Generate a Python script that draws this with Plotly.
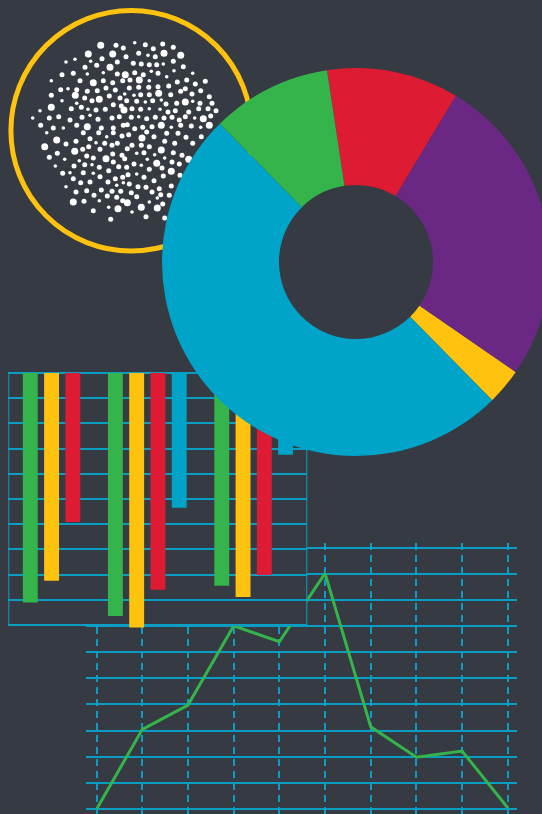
import plotly.graph_objects as go

W, H = 550, 814          # figure is 8px wider than the window: the donut runs off the right edge
BG = '#363a42'
GRID = '#0a9ec4'
GREEN = '#34b44a'
YELLOW = '#ffc20e'
RED = '#dd1c33'
BLUE = '#00a4c9'
PURPLE = '#6b2784'

# ---------------- data ----------------
# donut
pie_labels = ['Red', 'Purple', 'Yellow', 'Blue', 'Green']
pie_values = [11, 26, 3, 50, 10]
pie_colors = [RED, PURPLE, YELLOW, BLUE, GREEN]

# hanging bar chart (values measured downwards from the top line, 0..10 grid)
bar_groups = [1.5, 5.5, 10.5]
bar_green = [9.11, 9.64, 8.44]
bar_yellow = [8.24, 10.1, 8.89]
bar_red = [5.91, 8.6, 8.02]
bar_blue = [None, 5.35, 3.24]
bar_grid = list(range(0, 11))

# line chart
line_x = list(range(10))
line_y = [0.0, 3.05, 3.98, 7.01, 6.4, 9.02, 3.15, 1.98, 2.22, 0.05]
line_grid = list(range(0, 11))

# dot cloud (pixel space of the illustration)
dot_x = [
    100.7, 116, 88.3, 112.7, 123.3, 75, 66, 90.7, 102, 117.3,
    85, 96.7, 110, 62, 73.3, 87.3, 103.3, 117.3, 51.3, 80,
    93.3, 103.3, 112.7, 122.7, 60.7, 68, 76.7, 87.3, 97.3, 106,
    115.3, 51.3, 75.3, 84.7, 92, 99.3, 109.3, 120, 62, 76.7,
    51.3, 40, 71.3, 81.3, 88, 96, 105.3, 113.3, 121.3, 49.3,
    58.7, 70, 82, 90, 98, 112, 119.3, 32.7, 40.7, 53.3,
    63.3, 76.7, 87.3, 101.3, 113.3, 123.3,
    134.7, 145.3, 153.3, 162.7, 173.3, 138.7, 148, 155.3, 164, 180.7,
    126, 133.3, 141.3, 149.3, 156.7, 163.3, 173.3, 183.3, 125.3, 134.7,
    143.3, 151.3, 158, 174, 192.7, 130, 139.3, 149.3, 166.7, 177.3,
    186.7, 195.3, 205.3, 129.3, 138.7, 148.7, 158, 168.7, 185.3, 124.7,
    134, 140.7, 149.3, 158.7, 170.7, 180.7, 192, 200.7, 209.3, 126.7,
    136.7, 145.3, 152.7, 161.3, 166, 176.7, 185.3, 192.7, 200, 212,
    124, 132, 140.7, 149.3, 160, 168, 175.3, 188.7, 198.7, 208,
    216, 131.3, 138.7, 146.7, 155.3, 164, 172, 179.3, 185.3, 194.7,
    203.3, 210.7, 127.3, 134.7, 142.7, 152, 161.3, 171.3, 180.7, 191.3,
    200.7, 209.3,
    46.7, 56.7, 44.7, 66, 76, 83.3, 90, 98.7, 106.7, 113.3,
    122, 96, 104.7, 112, 117.3, 57.3, 49.3, 64.7, 74.7, 82.7,
    88.7, 86.7, 93.3, 100, 106, 112.7, 122, 79.3, 84.7, 92,
    99.3, 113.3, 118.7, 55.3, 74, 62.7, 70, 83.3, 93.3, 108.7,
    100, 73.3, 80.7, 90, 108, 115.3, 122.7, 116.7, 66, 76,
    86.7, 101.3, 112, 120.7, 94, 107.3, 116.7, 73.3, 84, 99.3,
    122.7, 108.7, 93.3, 118, 110.7,
    128.7, 142, 154, 166.7, 178, 186, 201.3, 146.7, 132, 141.3,
    149.3, 164.7, 174.7, 192.7, 127.3, 136.7, 144, 161.3, 173.3, 182,
    154.7, 188.7, 124.7, 134, 141.3, 147.3, 156.7, 164.7, 172, 179.3,
    126.7, 149.3, 162, 171.3, 128, 136.7, 144, 154, 163.3, 180,
    123.3, 129.3, 138, 146, 159.3, 171.3, 131.3, 136.7, 152, 160.7,
    169.3, 127.3, 149.3, 157.3, 162.7, 141.3, 157.3, 132, 146, 164.7,
]
dot_y = [
    45.3, 45.3, 54, 54, 48, 59.3, 62, 61.3, 58.7, 62,
    67.3, 65.3, 67.3, 74.7, 73.3, 74, 72.7, 74, 80.7, 80.7,
    82.7, 80.7, 82.7, 80.7, 89.7, 88.7, 89.7, 91.3, 90.7, 88,
    90, 95.3, 95.3, 98, 100.7, 99.3, 96, 98, 100.7, 103.3,
    107.3, 110.7, 108.7, 107.3, 109.3, 110, 109.3, 104.7, 106, 118,
    116.7, 120, 117.3, 115.3, 119.3, 118, 116.7, 118, 125.3, 128,
    128, 125.3, 126.7, 128, 128, 125.3,
    42.7, 44.7, 48.7, 44, 47.3, 53.3, 55.3, 56.7, 53.3, 55.3,
    56.7, 63.3, 64, 64.7, 64.7, 64, 61.3, 66.7, 74.7, 72.7,
    74.7, 71.3, 73.3, 70.7, 73.3, 80, 80, 80.7, 76.7, 82,
    80, 84, 81.3, 88, 87.3, 87.3, 86.7, 86, 88.7, 94,
    95.3, 94.7, 94.7, 93.3, 94.7, 91.3, 94, 90.7, 96.7, 100.7,
    101.3, 102, 100.7, 100, 104, 103.3, 102, 101.3, 103.3, 103.3,
    110, 108.7, 109.3, 108.7, 109.3, 112, 110.7, 112, 108.7, 108.7,
    110.7, 117.3, 116.7, 118.7, 117.3, 118, 117.3, 120, 116.7, 118,
    118.7, 116, 124.7, 128.7, 127.3, 126.7, 125.3, 127.3, 125.3, 126,
    127.3, 125.3,
    132.7, 140, 146.7, 144, 141.3, 132.7, 138.7, 132.7, 136.7, 132.7,
    136, 142.7, 143.3, 145.3, 143.3, 153.3, 157.3, 159.3, 151.3, 149.3,
    146.7, 156, 158, 149.3, 158.7, 154, 155.3, 160.7, 164.7, 164.7,
    167.3, 162, 166.7, 166, 166, 173.3, 172.7, 172.7, 173.3, 170.7,
    176.7, 178.7, 182.7, 182, 182, 178.7, 177.3, 185.3, 186.7, 192,
    190.7, 190, 191.3, 191.3, 195.3, 196, 197.3, 202, 201.3, 200.7,
    200.7, 207.3, 210.7, 208.7, 219.3,
    134.7, 138, 136.7, 133.3, 133.3, 137.3, 136.7, 132, 145.3, 145.3,
    146.7, 141.3, 143.3, 143.3, 148.7, 153.3, 152.7, 150, 152.7, 155.3,
    154.7, 159.3, 158.7, 164, 165.3, 159.3, 163.3, 158, 162, 164,
    167.3, 169.3, 168, 171.3, 174.7, 174, 177.3, 180.7, 176, 175.3,
    182.7, 184, 186.7, 187.3, 188.7, 186, 192.7, 196.7, 192, 194.7,
    195.3, 202.7, 202, 198, 204, 207.3, 208, 212, 216.7, 218,
]
dot_size = [
    7, 5, 7, 7, 5, 3.6, 3.6, 3.6, 5, 5,
    5, 5, 7, 5, 5, 3.6, 3.6, 5, 3.6, 5,
    7, 5, 5, 5, 5, 3.6, 5, 5, 5, 5,
    5, 5, 7, 5, 5, 7, 5, 5, 3.6, 3.6,
    7, 3.6, 5, 5, 3.6, 5, 5, 5, 5, 5,
    5, 5, 5, 3.6, 5, 5, 5, 3.6, 5, 5,
    3.6, 5, 7, 5, 5, 5,
    3.6, 5, 5, 5, 5, 5, 3.6, 5, 7, 7,
    5, 5, 5, 5, 5, 3.6, 5, 5, 7, 5,
    5, 3.6, 5, 3.6, 3.6, 5, 7, 3.6, 3.6, 5,
    5, 5, 5, 5, 5, 5, 5, 5, 5, 3.6,
    3.6, 5, 5, 7, 5, 5, 5, 5, 5, 5,
    5, 3.6, 5, 3.6, 5, 5, 7, 3.6, 5, 5,
    7, 5, 5, 3.6, 3.6, 5, 5, 5, 5, 5,
    5, 5, 3.6, 5, 5, 5, 5, 5, 5, 3.6,
    7, 5, 5, 5, 5, 5, 7, 3.6, 5, 5,
    3.6, 7,
    3.6, 7, 7, 5, 5, 5, 5, 5, 3.6, 5,
    5, 3.6, 5, 5, 5, 5, 5, 3.6, 7, 5,
    5, 5, 5, 5, 7, 5, 5, 3.6, 5, 3.6,
    5, 5, 5, 3.6, 5, 5, 3.6, 5, 3.6, 5,
    5, 5, 5, 5, 5, 5, 5, 3.6, 3.6, 5,
    5, 5, 5, 5, 5, 5, 5, 7, 5, 3.6,
    5, 3.6, 5, 7, 5,
    5, 7, 5, 5, 5, 5, 5, 5, 5, 5,
    5, 5, 5, 5, 5, 3.6, 5, 7, 5, 5,
    3.6, 7, 5, 5, 3.6, 3.6, 7, 3.6, 5, 5,
    5, 5, 5, 7, 5, 3.6, 5, 5, 5, 5,
    3.6, 5, 5, 5, 5, 5, 5, 5, 5, 5,
    5, 7, 3.6, 3.6, 5, 7, 7, 3.6, 5, 5,
]

# ---------------- layout helpers ----------------
def px_x(p):
    return p / W

def px_y(p):
    return 1 - p / H

line_xrange = [-0.234, 9.203]
line_yrange = [-0.191, 10.18]
bar_xrange = [-1.034, 13.02]
bar_yrange = [10.198, -0.119]

fig = go.Figure()

# line chart (bottom layer, subplot xy)
fig.add_trace(go.Scatter(
    x=line_x, y=line_y, mode='lines',
    line=dict(color=GREEN, width=3), xaxis='x', yaxis='y',
    hoverinfo='skip', showlegend=False))

# bars (subplot x2y2)
for vals, col in [(bar_green, GREEN), (bar_yellow, YELLOW),
                  (bar_red, RED), (bar_blue, BLUE)]:
    fig.add_trace(go.Bar(
        x=bar_groups, y=vals, marker=dict(color=col, line=dict(width=0)),
        xaxis='x2', yaxis='y2', hoverinfo='skip', showlegend=False))

# dots (subplot x3y3, pixel space)
fig.add_trace(go.Scatter(
    x=dot_x, y=dot_y, mode='markers',
    marker=dict(color='#ffffff', size=dot_size, opacity=1, line=dict(width=0)),
    xaxis='x3', yaxis='y3', hoverinfo='skip', showlegend=False))

# donut
fig.add_trace(go.Pie(
    labels=pie_labels, values=pie_values,
    marker=dict(colors=pie_colors, line=dict(width=0)),
    sort=False, direction='clockwise', rotation=-8.6, hole=0.397,
    textinfo='none', hoverinfo='skip', showlegend=False,
    domain=dict(x=[px_x(162), 1], y=[px_y(456), px_y(68)])))

hidden = dict(showticklabels=False, ticks='', zeroline=False, showline=False)

fig.update_layout(
    width=W, height=H,
    margin=dict(l=0, r=0, t=0, b=0, pad=0),
    paper_bgcolor=BG, plot_bgcolor='rgba(0,0,0,0)',
    bargap=0, bargroupgap=0.3, barmode='group',
    showlegend=False,
    xaxis=dict(domain=[px_x(86), px_x(517)], range=line_xrange,
               tickvals=line_x, showgrid=True, gridcolor=GRID, gridwidth=2,
               griddash='7px,5px', anchor='y', fixedrange=True, **hidden),
    yaxis=dict(domain=[0, px_y(543)], range=line_yrange,
               tickvals=line_grid, showgrid=True, gridcolor=GRID, gridwidth=2,
               anchor='x', fixedrange=True, **hidden),
    xaxis2=dict(domain=[px_x(8.3), px_x(307.3)], range=bar_xrange,
                showgrid=False, anchor='y2', fixedrange=True, **hidden),
    yaxis2=dict(domain=[px_y(630), px_y(370)], range=bar_yrange,
                tickvals=bar_grid, showgrid=True, gridcolor=GRID, gridwidth=2,
                anchor='x2', fixedrange=True, **hidden),
    xaxis3=dict(domain=[0, 1], range=[0, W], visible=False, anchor='y3',
                fixedrange=True),
    yaxis3=dict(domain=[0, 1], range=[H, 0], visible=False, anchor='x3',
                fixedrange=True),
    shapes=[
        # opaque frame of the bar chart (covers the line chart behind it)
        dict(type='rect', xref='x2', yref='y2',
             x0=bar_xrange[0], x1=bar_xrange[1], y0=0, y1=10,
             fillcolor=BG, line=dict(color=GRID, width=2), layer='below'),
        # yellow ring around the dot cloud
        dict(type='circle', xref='x3', yref='y3',
             x0=131.2 - 120.3, x1=131.2 + 120.3,
             y0=130.7 - 120.3, y1=130.7 + 120.3,
             line=dict(color=YELLOW, width=5), fillcolor='rgba(0,0,0,0)',
             layer='below'),
    ],
)

fig.write_html(
    'out.html',
    config=dict(displayModeBar=False, staticPlot=True),
    post_script="document.body.style.margin='0';document.body.style.overflow='hidden';",
)
